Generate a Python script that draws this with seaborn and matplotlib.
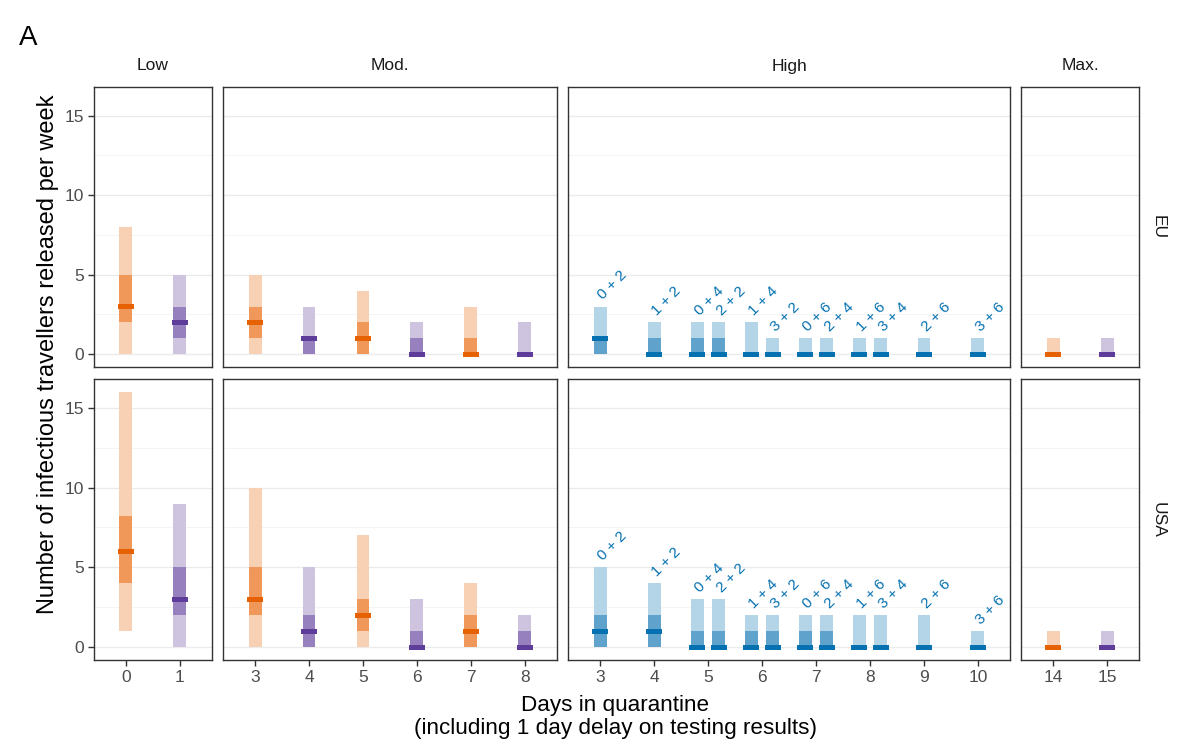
import numpy as np
import pandas as pd
import matplotlib
matplotlib.use("Agg")
import matplotlib.pyplot as plt
from matplotlib.ticker import MultipleLocator
import seaborn as sns

# ---------------- data ----------------
regions = ["EU", "USA"]
panels = ["Low", "Mod.", "High", "Max."]

low_x = [0, 1]
mod_x = [3, 4, 5, 6, 7, 8]
high_x = [3, 4, 4.8, 5.2, 5.8, 6.2, 6.8, 7.2, 7.8, 8.2, 9, 10]
max_x = [14, 15]

low_group = ["orange", "purple"]
mod_group = ["orange", "purple", "orange", "purple", "orange", "purple"]
high_group = ["blue"] * 12
max_group = ["orange", "purple"]

high_labels = ["0 + 2", "1 + 2", "0 + 4", "2 + 2", "1 + 4", "3 + 2",
               "0 + 6", "2 + 4", "1 + 6", "3 + 4", "2 + 6", "3 + 6"]

low_ticks = [0, 1]
mod_ticks = [3, 4, 5, 6, 7, 8]
high_ticks = [3, 4, 5, 6, 7, 8, 9, 10]
max_ticks = [14, 15]

# EU
eu_low_lo95 = [0, 0]
eu_low_hi95 = [8, 5]
eu_low_lo50 = [2, 1]
eu_low_hi50 = [5, 3]
eu_low_med = [3, 2]

eu_mod_lo95 = [0, 0, 0, 0, 0, 0]
eu_mod_hi95 = [5, 3, 4, 2, 3, 2]
eu_mod_lo50 = [1, 0, 0, 0, 0, 0]
eu_mod_hi50 = [3, 1, 2, 1, 1, 0]
eu_mod_med = [2, 1, 1, 0, 0, 0]

eu_high_lo95 = [0, 0, 0, 0, 0, 0, 0, 0, 0, 0, 0, 0]
eu_high_hi95 = [3, 2, 2, 2, 2, 1, 1, 1, 1, 1, 1, 1]
eu_high_lo50 = [0, 0, 0, 0, 0, 0, 0, 0, 0, 0, 0, 0]
eu_high_hi50 = [1, 1, 1, 1, 0, 0, 0, 0, 0, 0, 0, 0]
eu_high_med = [1, 0, 0, 0, 0, 0, 0, 0, 0, 0, 0, 0]

eu_max_lo95 = [0, 0]
eu_max_hi95 = [1, 1]
eu_max_lo50 = [0, 0]
eu_max_hi50 = [0, 0]
eu_max_med = [0, 0]

# USA
usa_low_lo95 = [1, 0]
usa_low_hi95 = [16, 9]
usa_low_lo50 = [4, 2]
usa_low_hi50 = [8.25, 5]
usa_low_med = [6, 3]

usa_mod_lo95 = [0, 0, 0, 0, 0, 0]
usa_mod_hi95 = [10, 5, 7, 3, 4, 2]
usa_mod_lo50 = [2, 0, 1, 0, 0, 0]
usa_mod_hi50 = [5, 2, 3, 1, 2, 1]
usa_mod_med = [3, 1, 2, 0, 1, 0]

usa_high_lo95 = [0, 0, 0, 0, 0, 0, 0, 0, 0, 0, 0, 0]
usa_high_hi95 = [5, 4, 3, 3, 2, 2, 2, 2, 2, 2, 2, 1]
usa_high_lo50 = [0, 0, 0, 0, 0, 0, 0, 0, 0, 0, 0, 0]
usa_high_hi50 = [2, 2, 1, 1, 1, 1, 1, 1, 0, 0, 0, 0]
usa_high_med = [1, 1, 0, 0, 0, 0, 0, 0, 0, 0, 0, 0]

usa_max_lo95 = [0, 0]
usa_max_hi95 = [1, 1]
usa_max_lo50 = [0, 0]
usa_max_hi50 = [0, 0]
usa_max_med = [0, 0]

# ---------------- assemble ----------------
panel_x = {"Low": low_x, "Mod.": mod_x, "High": high_x, "Max.": max_x}
panel_group = {"Low": low_group, "Mod.": mod_group, "High": high_group, "Max.": max_group}
panel_ticks = {"Low": low_ticks, "Mod.": mod_ticks, "High": high_ticks, "Max.": max_ticks}
vals = {
    ("EU", "Low"): (eu_low_lo95, eu_low_hi95, eu_low_lo50, eu_low_hi50, eu_low_med),
    ("EU", "Mod."): (eu_mod_lo95, eu_mod_hi95, eu_mod_lo50, eu_mod_hi50, eu_mod_med),
    ("EU", "High"): (eu_high_lo95, eu_high_hi95, eu_high_lo50, eu_high_hi50, eu_high_med),
    ("EU", "Max."): (eu_max_lo95, eu_max_hi95, eu_max_lo50, eu_max_hi50, eu_max_med),
    ("USA", "Low"): (usa_low_lo95, usa_low_hi95, usa_low_lo50, usa_low_hi50, usa_low_med),
    ("USA", "Mod."): (usa_mod_lo95, usa_mod_hi95, usa_mod_lo50, usa_mod_hi50, usa_mod_med),
    ("USA", "High"): (usa_high_lo95, usa_high_hi95, usa_high_lo50, usa_high_hi50, usa_high_med),
    ("USA", "Max."): (usa_max_lo95, usa_max_hi95, usa_max_lo50, usa_max_hi50, usa_max_med),
}

rows = []
for r in regions:
    for p in panels:
        lo95, hi95, lo50, hi50, med = vals[(r, p)]
        for i, x in enumerate(panel_x[p]):
            rows.append(dict(region=r, panel=p, x=x, group=panel_group[p][i],
                             lo95=lo95[i], hi95=hi95[i], lo50=lo50[i], hi50=hi50[i],
                             med=med[i],
                             label=high_labels[i] if p == "High" else ""))
df = pd.DataFrame(rows)

# ---------------- style ----------------
sns.set_theme(style="white")
plt.rcParams["font.family"] = ["Liberation Sans", "DejaVu Sans"]

base = {"orange": "#E66101", "purple": "#5E3C99", "blue": "#0571B0"}
light = {"orange": "#F8D0B3", "purple": "#CFC4E0", "blue": "#B4D4E7"}
dark = {"orange": "#EF985A", "purple": "#9680BD", "blue": "#5FA2CB"}

W, H = 1200, 743
fig = plt.figure(figsize=(W / 100, H / 100), dpi=100)

pad = 0.59
left_px, right_px, gap_px = 94, 1139, 11.5
spans = {p: (min(panel_x[p]) - pad, max(panel_x[p]) + pad) for p in panels}
tot_units = sum(b - a for a, b in spans.values())
unit = (right_px - left_px - 3 * gap_px) / tot_units
row_px = {"EU": (87, 367), "USA": (379, 660)}

bar_w = 0.24
med_w = 0.30
med_h = 0.30

for r in regions:
    top, bot = row_px[r]
    xpos = left_px
    for j, p in enumerate(panels):
        a, b = spans[p]
        wpx = (b - a) * unit
        ax = fig.add_axes([xpos / W, 1 - bot / H, wpx / W, (bot - top) / H])
        xpos += wpx + gap_px
        sub = df[(df.region == r) & (df.panel == p)]

        ax.set_xlim(a, b)
        ax.set_ylim(-0.8, 16.8)
        ax.yaxis.set_major_locator(MultipleLocator(5))
        ax.yaxis.set_minor_locator(MultipleLocator(2.5))
        ax.grid(False)
        ax.grid(axis="y", which="major", color="#EBEBEB", lw=1.0, zorder=0)
        ax.grid(axis="y", which="minor", color="#F3F3F3", lw=0.6, zorder=0)
        ax.set_axisbelow(True)
        for s in ax.spines.values():
            s.set_color("#333333")
            s.set_linewidth(1.0)

        cl = [light[g] for g in sub.group]
        cd = [dark[g] for g in sub.group]
        cm = [base[g] for g in sub.group]
        ax.bar(sub.x, sub.hi95 - sub.lo95, bottom=sub.lo95, width=bar_w,
               color=cl, linewidth=0, zorder=2)
        ax.bar(sub.x, sub.hi50 - sub.lo50, bottom=sub.lo50, width=bar_w,
               color=cd, linewidth=0, zorder=3)
        ax.bar(sub.x, med_h, bottom=sub.med - med_h / 2, width=med_w,
               color=cm, linewidth=0, zorder=4)

        if p == "High":
            for _, row in sub.iterrows():
                ax.text(row.x, row.hi95 + 0.6, row.label, rotation=45,
                        rotation_mode="anchor", ha="left", va="center",
                        fontsize=11, color=base["blue"], zorder=5)

        ax.set_xticks(panel_ticks[p])
        ax.set_xticklabels([str(t) for t in panel_ticks[p]])
        ax.tick_params(axis="both", which="major", length=4, width=1.0,
                       color="#333333", labelcolor="#4D4D4D", labelsize=12.5,
                       pad=3)
        ax.tick_params(axis="y", which="minor", length=0)
        if r == "EU":
            ax.tick_params(axis="x", bottom=False, labelbottom=False)
        else:
            ax.tick_params(axis="x", bottom=True, labelbottom=True)
        if j == 0:
            ax.tick_params(axis="y", left=True, labelleft=True)
        else:
            ax.tick_params(axis="y", left=False, labelleft=False)
        ax.set_xlabel("")
        ax.set_ylabel("")

        if r == "EU":
            ax.text(0.5, 1 + 21 / (bot - top), p, transform=ax.transAxes,
                    ha="center", va="center", fontsize=12.5, color="#1A1A1A")
        if j == len(panels) - 1:
            ax.text(1 + 19 / wpx, 0.5, r, transform=ax.transAxes,
                    ha="center", va="center", rotation=-90, fontsize=12.5,
                    color="#1A1A1A")

fig.text(48 / W, 1 - 354 / H, "Number of infectious travellers released per week",
         rotation=90, ha="center", va="center", fontsize=17, color="black")
fig.text(615 / W, 1 - 717 / H,
         "Days in quarantine\n(including 1 day delay on testing results)",
         ha="center", va="center", fontsize=16.2, color="black", linespacing=1.15)
fig.text(19 / W, 1 - 38 / H, "A", ha="left", va="center", fontsize=20,
         color="black")

fig.savefig("out.png", dpi=100, facecolor="white")
